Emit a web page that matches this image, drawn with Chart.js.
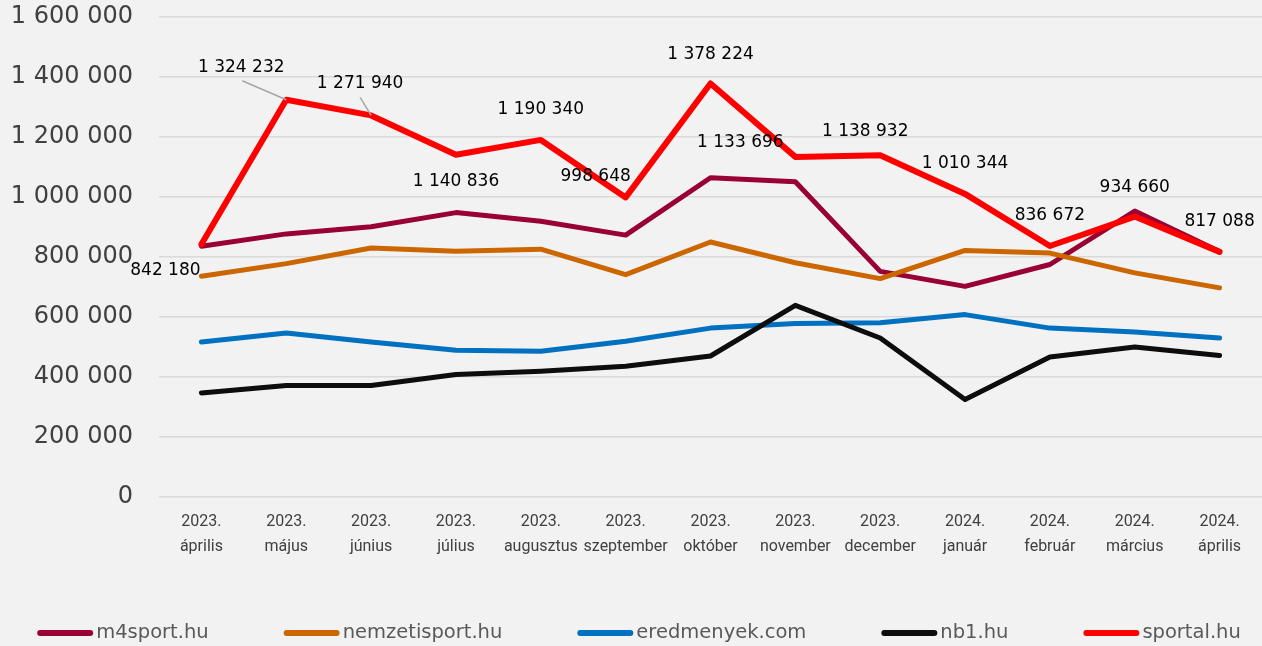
<!DOCTYPE html>
<html>
<head>
<meta charset="utf-8">
<script src="https://cdn.jsdelivr.net/npm/chart.js@4/dist/chart.umd.min.js"></script>
<style>
    html, body { margin: 0; padding: 0; background: #f2f2f2; }
    #wrap { width: 1262px; height: 646px; }
</style>
</head>
<body>
<div id="wrap"><canvas id="sitesChart"></canvas></div>
<script>
const months = [
    ['2023.', 'április'], ['2023.', 'május'], ['2023.', 'június'], ['2023.', 'július'],
    ['2023.', 'augusztus'], ['2023.', 'szeptember'], ['2023.', 'október'], ['2023.', 'november'],
    ['2023.', 'december'], ['2024.', 'január'], ['2024.', 'február'], ['2024.', 'március'],
    ['2024.', 'április']
];

const m4sport = [836000, 877000, 901000, 948000, 919000, 873000, 1064000, 1051000, 752000, 702000, 775000, 953000, 818000];
const nemzetisport = [736000, 778000, 830000, 819000, 826000, 741000, 850000, 781000, 728000, 822000, 813000, 747000, 697000];
const eredmenyek = [517000, 547000, 517000, 489000, 486000, 519000, 563000, 578000, 581000, 608000, 563000, 550000, 530000];
const nb1 = [347000, 372000, 372000, 408000, 419000, 436000, 470000, 639000, 530000, 325000, 467000, 500000, 472000];
const sportal = [842180, 1324232, 1271940, 1140836, 1190340, 998648, 1378224, 1133696, 1138932, 1010344, 836672, 934660, 817088];

const yTicks = [0, 200000, 400000, 600000, 800000, 1000000, 1200000, 1400000, 1600000];

// where each sportal label sits relative to its point (dx, dy, leader line?)
const labelOffsets = [
    [-36, 26, false], [-45, -32, true], [-11, -32, true], [0, 27, false],
    [0, -30, false], [-30, -21, false], [0, -29, false], [-55, -14, false],
    [-15, -24, false], [0, -30, false], [0, -30, false], [0, -29, false],
    [0, -30, false]
];

const fmt = v => String(Math.round(v)).replace(/\B(?=(\d{3})+(?!\d))/g, ' ');

const sportalLabels = {
    id: 'sportalLabels',
    afterDatasetsDraw(chart) {
        const meta = chart.getDatasetMeta(4);
        const c = chart.ctx;
        c.save();
        c.font = '17px "DejaVu Sans"';
        c.textAlign = 'center';
        c.textBaseline = 'middle';
        meta.data.forEach((pt, i) => {
            const [dx, dy, leader] = labelOffsets[i];
            const lx = pt.x + dx;
            const ly = pt.y + dy;
            if (leader) {
                c.strokeStyle = '#a6a6a6';
                c.lineWidth = 1.5;
                c.beginPath();
                if (dx < -20) {
                    c.moveTo(lx + 1, ly + 13);
                } else {
                    c.moveTo(lx, ly + 14);
                }
                c.lineTo(pt.x, pt.y);
                c.stroke();
            }
            c.fillStyle = '#000000';
            c.fillText(fmt(sportal[i]), lx, ly);
        });
        c.restore();
    }
};

const bottomLegend = {
    id: 'bottomLegend',
    afterDraw(chart) {
        const c = chart.ctx;
        const lineLen = 56, gapText = 3, gapItem = 75, y = 633;
        c.save();
        c.font = '19.5px "DejaVu Sans"';
        c.textBaseline = 'middle';
        const items = chart.data.datasets.map(ds => ({ text: ds.label, color: ds.borderColor, w: c.measureText(ds.label).width }));
        let total = 0;
        items.forEach((it, i) => { total += lineLen + gapText + it.w + (i ? gapItem : 0); });
        let x = (chart.width - total) / 2 + 8;
        items.forEach(it => {
            c.strokeStyle = it.color;
            c.lineWidth = 6;
            c.lineCap = 'round';
            c.beginPath();
            c.moveTo(x + 3, y);
            c.lineTo(x + lineLen - 3, y);
            c.stroke();
            c.fillStyle = '#595959';
            c.fillText(it.text, x + lineLen + gapText, y);
            x += lineLen + gapText + it.w + gapItem;
        });
        c.restore();
    }
};

const ctx = document.getElementById('sitesChart').getContext('2d');

const mkLine = (label, data, color, width, order) => ({
    label, data,
    borderColor: color,
    backgroundColor: color,
    borderWidth: width,
    pointRadius: 0,
    borderJoinStyle: 'round',
    borderCapStyle: 'round',
    tension: 0,
    fill: false,
    order
});

new Chart(ctx, {
    type: 'line',
    data: {
        labels: months,
        datasets: [
            mkLine('m4sport.hu', m4sport, '#990033', 5, 5),
            mkLine('nemzetisport.hu', nemzetisport, '#cc6600', 5, 4),
            mkLine('eredmenyek.com', eredmenyek, '#0070c0', 5, 3),
            mkLine('nb1.hu', nb1, '#0d0d0d', 5, 2),
            mkLine('sportal.hu', sportal, '#ff0000', 6, 1)
        ]
    },
    options: {
        responsive: true,
        maintainAspectRatio: false,
        animation: false,
        layout: { padding: { top: 17, right: 0, left: 0, bottom: 0 } },
        plugins: {
            legend: { display: false },
            tooltip: { enabled: false }
        },
        scales: {
            x: {
                offset: true,
                grid: { display: false },
                border: { display: false },
                ticks: {
                    color: '#404040',
                    font: { family: 'Roboto', size: 16, lineHeight: 1.55 },
                    padding: 5,
                    maxRotation: 0,
                    autoSkip: false
                },
                afterFit: s => { s.height = 149; s.paddingLeft = 0; s.paddingRight = 0; }
            },
            y: {
                min: 0,
                max: 1600000,
                afterBuildTicks: s => { s.ticks = yTicks.map(v => ({ value: v })); },
                grid: { color: '#d9d9d9', lineWidth: 1.5, drawTicks: false },
                border: { display: false },
                ticks: {
                    color: '#404040',
                    font: { family: 'DejaVu Sans', size: 24 },
                    padding: 26,
                    callback: v => fmt(v)
                },
                afterFit: s => { s.width = 159; s.paddingTop = 0; s.paddingBottom = 0; }
            }
        }
    },
    plugins: [sportalLabels, bottomLegend]
});
</script>
</body>
</html>
